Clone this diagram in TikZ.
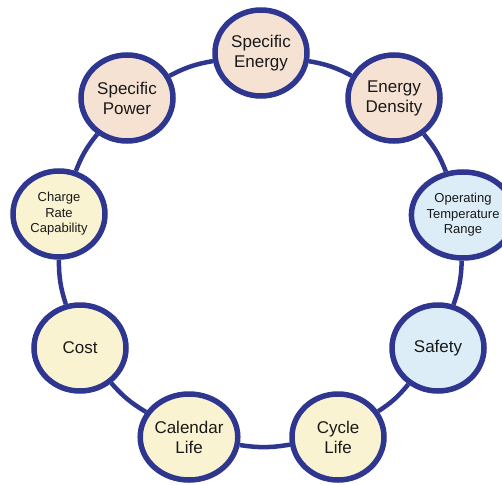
\documentclass[tikz,border=0pt]{standalone}
\usepackage{fontspec}
\setmainfont{Liberation Sans}
\usepackage{xcolor}
\definecolor{RingBlue}{HTML}{2E3690}
\definecolor{PeachFill}{HTML}{F5E2D3}
\definecolor{SkyFill}{HTML}{DDEDF8}
\definecolor{CreamFill}{HTML}{FAF3D1}
\usepackage{tikz}
\usetikzlibrary{shapes.geometric}

\begin{document}
\begin{tikzpicture}[x=1pt,y=1pt,
    every node/.style={ellipse,draw=RingBlue,line width=5.5pt,minimum width=92pt,minimum height=86pt,inner sep=0pt,align=center,font=\fontsize{17}{20}\selectfont,text=black!90},
    small/.style={font=\fontsize{13}{15.5}\selectfont},
    link/.style={draw=RingBlue,line width=4.5pt}]
    \useasboundingbox (0,0) rectangle (502,-484);
    \node[fill=PeachFill] (se) at (261,-53) {Specific\\Energy};
    \node[fill=PeachFill] (ed) at (394,-98) {Energy\\Density};
    \node[fill=SkyFill,small] (ot) at (463,-215) {Operating\\Temperature\\Range};
    \node[fill=SkyFill] (sf) at (438,-348) {Safety};
    \node[fill=CreamFill] (cy) at (338,-437) {Cycle\\Life};
    \node[fill=CreamFill] (ca) at (189,-437) {Calendar\\Life};
    \node[fill=CreamFill] (co) at (80,-348) {Cost};
    \node[fill=CreamFill,small] (ch) at (59,-214) {Charge\\Rate\\Capability};
    \node[fill=PeachFill] (sp) at (127,-98) {Specific\\Power};
    \draw[link] (se) to[bend left=9] (ed);
    \draw[link] (ed) to[bend left=9] (ot);
    \draw[link] (ot) to[bend left=9] (sf);
    \draw[link] (sf) to[bend left=9] (cy);
    \draw[link] (cy) to[bend left=9] (ca);
    \draw[link] (ca) to[bend left=9] (co);
    \draw[link] (co) to[bend left=9] (ch);
    \draw[link] (ch) to[bend left=9] (sp);
    \draw[link] (sp) to[bend left=9] (se);
\end{tikzpicture}
\end{document}
